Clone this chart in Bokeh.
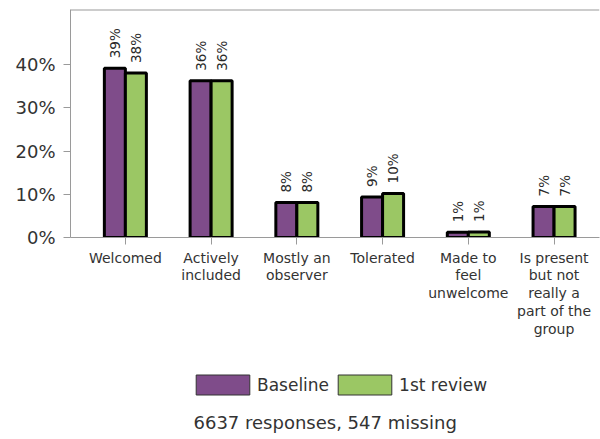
import numpy as np
from bokeh.plotting import figure
from bokeh.models import (Range1d, FixedTicker, PrintfTickFormatter, Span, Legend,
                          LegendItem, Title, ColumnDataSource)
from bokeh.layouts import column
from bokeh.core.properties import value
from bokeh.embed import file_html
from bokeh.resources import INLINE

# ---- data ----
categories = ["Welcomed", "Actively\nincluded", "Mostly an\nobserver", "Tolerated",
              "Made to\nfeel\nunwelcome", "Is present\nbut not\nreally a\npart of the\ngroup"]
baseline = [39.2, 36.3, 8.1, 9.4, 1.2, 7.2]
review = [38.1, 36.3, 8.1, 10.2, 1.3, 7.2]
series_names = ["Baseline", "1st review"]
y_ticks = [0, 10, 20, 30, 40]
footnote = "6637 responses, 547 missing"

PURPLE = "#7f4c8a"
GREEN = "#9bc764"
TXT = "#333333"
AX = "#9a9a9a"
FONT = "DejaVu Sans"

idx = np.arange(len(categories))
bw = 0.245
off = bw / 2

p = figure(frame_width=529, frame_height=228, x_range=Range1d(-0.64, 5.53), y_range=Range1d(0, 52.8),
           output_backend="svg", toolbar_location=None, title=None,
           min_border_left=70, min_border_right=1, min_border_top=9, min_border_bottom=104)
p.grid.visible = False
p.outline_line_color = None
p.add_layout(Span(location=52.8, dimension="width", line_color=AX, line_width=2))

src_b = ColumnDataSource(dict(x=idx - off, top=baseline, lab=[f"{round(v)}%" for v in baseline]))
src_r = ColumnDataSource(dict(x=idx + off, top=review, lab=[f"{round(v)}%" for v in review]))

p.vbar(x="x", top="top", width=bw, source=src_b, fill_color=PURPLE, line_color="black", line_width=3)
p.vbar(x="x", top="top", width=bw, source=src_r, fill_color=GREEN, line_color="black", line_width=3)
for s in (src_b, src_r):
    p.text(x="x", y="top", text="lab", source=s, angle=np.pi / 2, text_align="left",
           text_baseline="middle", y_offset=-10, text_font=value(FONT),
           text_font_size="13.5px", text_color="#2a2a2a")

ya = p.yaxis[0]
ya.ticker = FixedTicker(ticks=y_ticks)
ya.formatter = PrintfTickFormatter(format="%d%%")
ya.major_tick_in = 0
ya.major_tick_out = 7
ya.minor_tick_line_color = None
ya.axis_line_color = AX
ya.major_tick_line_color = AX
ya.major_label_text_font = FONT
ya.major_label_text_font_size = "18px"
ya.major_label_text_color = TXT
ya.major_label_standoff = 8

xa = p.xaxis[0]
xa.ticker = FixedTicker(ticks=list(idx))
xa.major_label_overrides = {int(i): c for i, c in zip(idx, categories)}
xa.major_tick_in = 0
xa.major_tick_out = 7
xa.minor_tick_line_color = None
xa.axis_line_color = AX
xa.major_tick_line_color = AX
xa.major_label_text_font = FONT
xa.major_label_text_font_size = "14px"
xa.major_label_text_color = TXT
xa.major_label_text_line_height = 1.12
xa.major_label_standoff = 5

# ---- legend + footnote panel ----
p2 = figure(frame_width=529, frame_height=56, x_range=Range1d(0, 1), y_range=Range1d(0, 1),
            output_backend="svg", toolbar_location=None, title=None,
            x_axis_type=None, y_axis_type=None,
            min_border_left=70, min_border_right=1, min_border_top=0, min_border_bottom=30)
p2.grid.visible = False
p2.outline_line_color = None
r1 = p2.vbar(x="x", top="top", width=bw, source=src_b, visible=False,
             fill_color=PURPLE, line_color="#333333", line_width=1)
r2 = p2.vbar(x="x", top="top", width=bw, source=src_r, visible=False,
             fill_color=GREEN, line_color="#333333", line_width=1)
legend = Legend(items=[LegendItem(label=series_names[0], renderers=[r1]),
                       LegendItem(label=series_names[1], renderers=[r2])],
                orientation="horizontal", location=(119, 0), glyph_width=67, glyph_height=25,
                label_standoff=1, spacing=2, padding=0, margin=0, border_line_color=None,
                background_fill_alpha=0, inactive_fill_alpha=0,
                label_text_font=FONT, label_text_font_size="17px",
                label_text_color=TXT)
p2.add_layout(legend)
p2.add_layout(Title(text=footnote, align="left", offset=123, text_font=FONT,
                    text_font_size="18px", text_font_style="normal", text_color=TXT,
                    standoff=24), "below")

layout = column(p, p2)
open("out.html", "w").write(file_html(layout, INLINE))
